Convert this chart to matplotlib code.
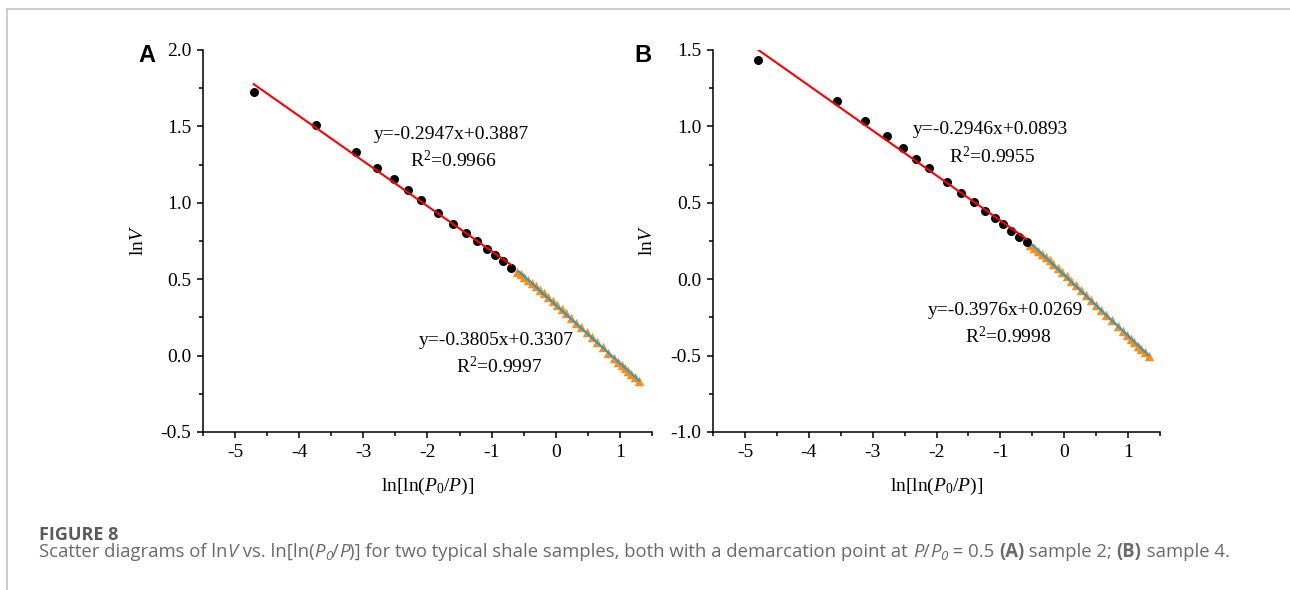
import matplotlib
matplotlib.use("Agg")
import matplotlib.pyplot as plt
from matplotlib.lines import Line2D
from matplotlib.ticker import MultipleLocator, FormatStrFormatter
import numpy as np

plt.rcParams['font.family'] = ['Liberation Serif', 'DejaVu Serif']
plt.rcParams['mathtext.fontset'] = 'custom'
plt.rcParams['mathtext.rm'] = 'Liberation Serif'
plt.rcParams['mathtext.it'] = 'Liberation Serif:italic'
plt.rcParams['axes.unicode_minus'] = False

# ---- sample 2 (panel A) ----
a_low_x = [-4.71, -3.74, -3.12, -2.78, -2.53, -2.31, -2.10, -1.83, -1.60,
           -1.40, -1.23, -1.08, -0.94, -0.82, -0.70]
a_low_y = [1.723, 1.509, 1.332, 1.231, 1.153, 1.085, 1.020, 0.932, 0.863,
           0.801, 0.749, 0.699, 0.657, 0.618, 0.576]
a_high_x = [-0.61, -0.55, -0.49, -0.43, -0.37, -0.31, -0.25, -0.19, -0.12,
            -0.05, 0.02, 0.09, 0.16, 0.24, 0.32, 0.40, 0.48, 0.56, 0.64,
            0.73, 0.82, 0.91, 0.97, 1.03, 1.08, 1.13, 1.18, 1.23, 1.30]
a_high_y = [0.548, 0.532, 0.513, 0.494, 0.475, 0.454, 0.432, 0.410, 0.384,
            0.358, 0.331, 0.304, 0.277, 0.246, 0.215, 0.184, 0.153, 0.122,
            0.090, 0.055, 0.020, -0.016, -0.039, -0.063, -0.083, -0.103,
            -0.123, -0.143, -0.165]
a_fit_low = (-0.2947, 0.3887, 0.9966)
a_fit_high = (-0.3805, 0.3307, 0.9997)

# ---- sample 4 (panel B) ----
b_low_x = [-4.80, -3.56, -3.12, -2.78, -2.53, -2.32, -2.11, -1.84, -1.61,
           -1.42, -1.24, -1.09, -0.96, -0.83, -0.71, -0.59]
b_low_y = [1.434, 1.166, 1.037, 0.937, 0.856, 0.788, 0.725, 0.638, 0.563,
           0.502, 0.448, 0.402, 0.358, 0.315, 0.277, 0.242]
b_high_x = [-0.53, -0.47, -0.41, -0.35, -0.29, -0.23, -0.17, -0.10, -0.03,
            0.04, 0.11, 0.18, 0.26, 0.34, 0.42, 0.50, 0.58, 0.66, 0.75,
            0.84, 0.92, 0.98, 1.04, 1.10, 1.15, 1.20, 1.26, 1.32]
b_high_y = [0.224, 0.206, 0.187, 0.167, 0.146, 0.124, 0.101, 0.075, 0.047,
            0.019, -0.009, -0.038, -0.069, -0.101, -0.134, -0.167, -0.200,
            -0.232, -0.269, -0.306, -0.339, -0.364, -0.389, -0.413, -0.434,
            -0.455, -0.479, -0.500]
b_fit_low = (-0.2946, 0.0893, 0.9955)
b_fit_high = (-0.3976, 0.0269, 0.9998)

RED = '#ff0000'
BLUE = '#1e9fdc'
ORANGE = '#ff8a14'

fig = plt.figure(figsize=(12.9, 5.9), dpi=100)


def draw_panel(ax, lx, ly, hx, hy, fit_low, fit_high, ylim, label_pos):
    ax.scatter(hx, hy, marker='^', s=46, color=ORANGE, linewidths=0, zorder=2)
    ax.scatter(lx, ly, marker='o', s=42, color='black', linewidths=0, zorder=2)

    xs = np.array([lx[0], lx[-1]])
    ax.plot(xs, fit_low[0] * xs + fit_low[1], color=RED, lw=1.5, zorder=3)
    xs = np.array([hx[0] + 0.03, hx[-1]])
    ax.plot(xs, fit_high[0] * xs + fit_high[1], color=BLUE, lw=1.5, zorder=3)

    (x1, y1, y1r), (x2, y2, y2r) = label_pos
    ax.text(x1, y1, f'y={fit_low[0]:.4f}x+{fit_low[1]:.4f}', fontsize=14,
            ha='center', va='center')
    ax.text(x1 + 0.03, y1r, 'R$^{2}$=' + f'{fit_low[2]:.4f}', fontsize=14,
            ha='center', va='center')
    ax.text(x2, y2, f'y={fit_high[0]:.4f}x+{fit_high[1]:.4f}', fontsize=14,
            ha='center', va='center')
    ax.text(x2 + 0.04, y2r, 'R$^{2}$=' + f'{fit_high[2]:.4f}', fontsize=14,
            ha='center', va='center')

    ax.set_xlim(-5.5, 1.5)
    ax.set_ylim(*ylim)
    ax.xaxis.set_major_locator(MultipleLocator(1))
    ax.xaxis.set_minor_locator(MultipleLocator(0.5))
    ax.yaxis.set_major_locator(MultipleLocator(0.5))
    ax.yaxis.set_minor_locator(MultipleLocator(0.25))
    ax.yaxis.set_major_formatter(FormatStrFormatter('%.1f'))
    ax.spines['top'].set_visible(False)
    ax.spines['right'].set_visible(False)
    for s in ('left', 'bottom'):
        ax.spines[s].set_linewidth(1.1)
    ax.tick_params(which='major', direction='out', length=4.5, width=1.1,
                   labelsize=14, pad=4)
    ax.tick_params(which='minor', direction='out', length=2.6, width=1.1)
    ax.set_xlabel(r'$\mathrm{ln[ln(}P_{0}/P\mathrm{)]}$', fontsize=14,
                  labelpad=11)
    ax.set_ylabel(r'$\mathrm{ln}V$', fontsize=14, labelpad=10)


ax_a = fig.add_axes([203 / 1290, 158 / 590, 449 / 1290, 382 / 590])
draw_panel(ax_a, a_low_x, a_low_y, a_high_x, a_high_y, a_fit_low, a_fit_high,
           (-0.5, 2.0), ((-1.63, 1.448, 1.28), (-0.92, 0.10, -0.07)))

ax_b = fig.add_axes([713 / 1290, 158 / 590, 447 / 1290, 382 / 590])
draw_panel(ax_b, b_low_x, b_low_y, b_high_x, b_high_y, b_fit_low, b_fit_high,
           (-1.0, 1.5), ((-1.16, 0.98, 0.805), (-0.92, -0.203, -0.374)))

fig.text(147 / 1290, 1 - 55 / 590, 'A', family='Liberation Sans',
         weight='bold', fontsize=17, ha='center', va='center')
fig.text(643 / 1290, 1 - 55 / 590, 'B', family='Liberation Sans',
         weight='bold', fontsize=17, ha='center', va='center')

# frame of the figure box
fig.add_artist(Line2D([7 / 1290, 7 / 1290], [0, 1 - 9 / 590],
                      transform=fig.transFigure, color='#c4c4c4', lw=1.2))
fig.add_artist(Line2D([7 / 1290, 1], [1 - 9 / 590, 1 - 9 / 590],
                      transform=fig.transFigure, color='#c4c4c4', lw=1.2))

# caption
CAP = dict(family=['Open Sans', 'DejaVu Sans'], fontsize=13.35, color='#6a6a6a',
           va='baseline')
fig.text(39 / 1290, 1 - 540 / 590, 'FIGURE 8', weight='bold',
         **{**CAP, 'color': '#5a5a5a', 'fontsize': 13})

NB = '\u00a0'
runs = [
    ('Scatter diagrams of ln', {}),
    ('V', {'style': 'italic'}),
    (NB + 'vs. ln[ln(', {}),
    ('P', {'style': 'italic'}),
    ('0', {'style': 'italic', 'sub': True}),
    ('/', {}),
    ('P', {'style': 'italic'}),
    (')] for two typical shale samples, both with a demarcation point at' + NB, {}),
    ('P', {'style': 'italic'}),
    ('/', {}),
    ('P', {'style': 'italic'}),
    ('0', {'style': 'italic', 'sub': True}),
    (NB + '=' + NB + '0.5' + NB, {}),
    ('(A)', {'weight': 'bold'}),
    (NB + 'sample 2;' + NB, {}),
    ('(B)', {'weight': 'bold'}),
    (NB + 'sample 4.', {}),
]
renderer = fig.canvas.get_renderer()
cx = 39 / 1290
cy = 1 - 557 / 590
for txt, st in runs:
    st = dict(st)
    sub = st.pop('sub', False)
    kw = dict(CAP, **st)
    y = cy
    if sub:
        kw['fontsize'] = CAP['fontsize'] * 0.72
        y = cy - 3.5 / 590
    t = fig.text(cx, y, txt, **kw)
    cx += t.get_window_extent(renderer).width / fig.bbox.width

fig.savefig('out.png', dpi=100)
